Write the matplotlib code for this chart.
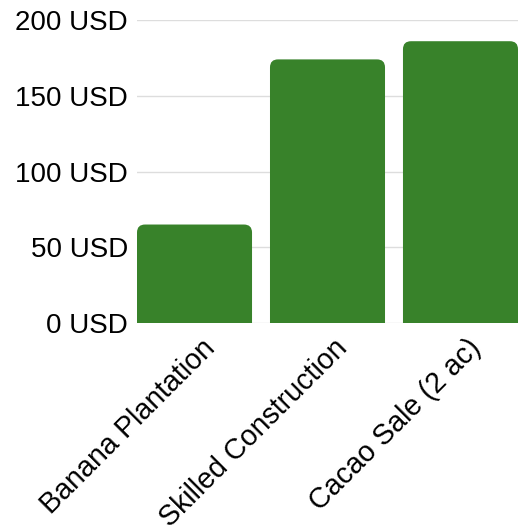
import matplotlib
matplotlib.use("Agg")
import matplotlib.pyplot as plt
from matplotlib.patches import FancyBboxPatch
from matplotlib.transforms import ScaledTranslation

plt.rcParams["font.family"] = ["Liberation Sans", "DejaVu Sans"]

categories = ["Banana Plantation", "Skilled Construction", "Cacao Sale (2 ac)"]
values = [65, 174, 186]
y_ticks = [0, 50, 100, 150, 200]

bar_color = "#38822a"
bar_width = 0.865

fig = plt.figure(figsize=(5.2, 5.25), dpi=100)
left, right, top, bottom = 137 / 520, 518 / 520, 1 - 20 / 525, 1 - 323 / 525
ax = fig.add_axes([left, bottom, right - left, top - bottom])

xlim = (-bar_width / 2, len(categories) - 1 + bar_width / 2)
ax.set_xlim(*xlim)
ax.set_ylim(0, 200)

# rounded top corners: scale radius from pixels into data units
ax_w_px = (right - left) * 520
ax_h_px = (top - bottom) * 525
x_per_px = (xlim[1] - xlim[0]) / ax_w_px
y_per_px = 200 / ax_h_px
radius = 8 * x_per_px
aspect = y_per_px / x_per_px

for i, v in enumerate(values):
    patch = FancyBboxPatch(
        (i - bar_width / 2, -20), bar_width, v + 20,
        boxstyle=f"round,pad=0,rounding_size={radius}",
        mutation_aspect=aspect,
        facecolor=bar_color, edgecolor="none", zorder=3, clip_on=True,
    )
    ax.add_patch(patch)

ax.set_yticks(y_ticks)
ax.set_yticklabels([f"{t} USD" for t in y_ticks], fontsize=20)
ax.set_xticks(range(len(categories)))
ax.set_xticklabels(categories, fontsize=20.6, rotation=45, ha="right",
                   va="top", rotation_mode="anchor")
ax.tick_params(axis="x", length=0, pad=8)
ax.tick_params(axis="y", length=0, pad=6.5)
shift = ScaledTranslation(6 / 100, 0, fig.dpi_scale_trans)
for lbl in ax.get_xticklabels():
    lbl.set_transform(lbl.get_transform() + shift)
ax.grid(axis="y", color="#dddddd", linewidth=1, zorder=0)
for s in ax.spines.values():
    s.set_visible(False)

fig.savefig("out.png", dpi=100)
